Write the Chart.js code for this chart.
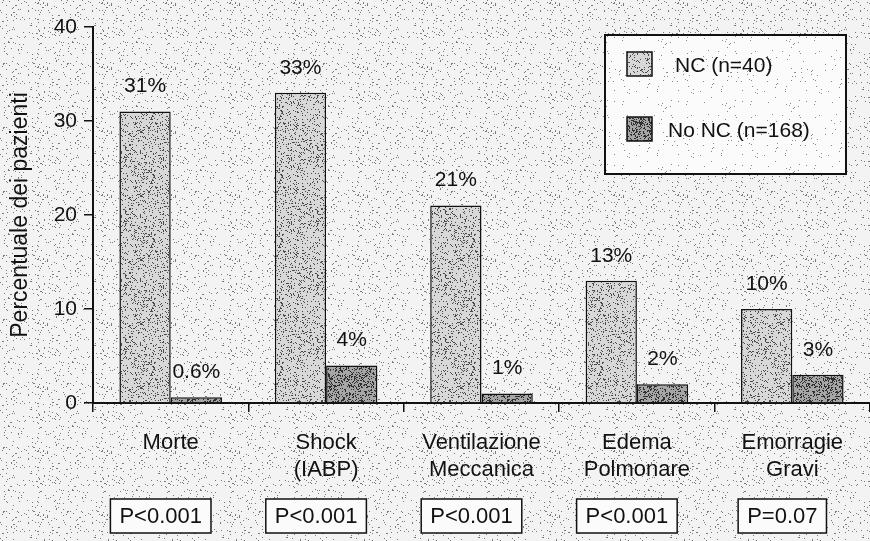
<!DOCTYPE html>
<html>
<head>
<meta charset="utf-8">
<script src="https://cdn.jsdelivr.net/npm/chart.js@4.4.1/dist/chart.umd.min.js"></script>
<style>
  html, body { margin: 0; padding: 0; background: #e8e8e8; }
  #wrap { width: 870px; height: 541px; }
</style>
</head>
<body>
<div id="wrap"><canvas id="chart" width="870" height="541"></canvas></div>
<script>
// Data
const categories = [
  ['Morte'],
  ['Shock', '(IABP)'],
  ['Ventilazione', 'Meccanica'],
  ['Edema', 'Polmonare'],
  ['Emorragie', 'Gravi']
];
const seriesNames = ['NC (n=40)', 'No NC (n=168)'];
const ncValues = [31, 33, 21, 13, 10];
const noNcValues = [0.6, 4, 1, 2, 3];
const ncLabels = ['31%', '33%', '21%', '13%', '10%'];
const noNcLabels = ['0.6%', '4%', '1%', '2%', '3%'];
const pValues = ['P<0.001', 'P<0.001', 'P<0.001', 'P<0.001', 'P=0.07'];
const yTicks = [0, 10, 20, 30, 40];

const FONT = '"Liberation Sans", Arial, Helvetica, sans-serif';

// stippled texture like the scanned print (fixed LCG, not data)
function stipple(base, dot, share, seed) {
  const size = 64;
  const c = document.createElement('canvas');
  c.width = size; c.height = size;
  const g = c.getContext('2d');
  g.fillStyle = base;
  g.fillRect(0, 0, size, size);
  g.fillStyle = dot;
  let s = seed;
  const next = () => { s = (s * 1103515245 + 12345) % 2147483648; return s / 2147483648; };
  const n = Math.round(size * size * share);
  for (let i = 0; i < n; i++) {
    g.fillRect(Math.floor(next() * size), Math.floor(next() * size), 1, 1);
  }
  return c;
}

const ctx0 = document.getElementById('chart').getContext('2d');
const bgPattern = ctx0.createPattern(stipple('#f3f3f3', '#7a7a7a', 0.05, 7), 'repeat');
const ncPattern = ctx0.createPattern(stipple('#d8d8d8', '#4a4a4a', 0.16, 19), 'repeat');
const noNcPattern = ctx0.createPattern(stipple('#a6a6a6', '#2e2e2e', 0.33, 41), 'repeat');
const legendPattern = ctx0.createPattern(stipple('#fbfbfb', '#8a8a8a', 0.015, 3), 'repeat');

const paperPlugin = {
  id: 'paper',
  beforeDraw(chart) {
    const { ctx, width, height } = chart;
    ctx.save();
    ctx.fillStyle = bgPattern;
    ctx.fillRect(0, 0, width, height);
    ctx.restore();
  }
};

const annotations = {
  id: 'annotations',
  afterDatasetsDraw(chart) {
    const { ctx } = chart;
    const labelSets = [ncLabels, noNcLabels];
    ctx.save();
    ctx.fillStyle = '#111';
    ctx.font = '21px ' + FONT;
    ctx.textAlign = 'center';
    ctx.textBaseline = 'middle';
    chart.data.datasets.forEach((ds, di) => {
      chart.getDatasetMeta(di).data.forEach((bar, i) => {
        ctx.fillText(labelSets[di][i], bar.x, bar.y - 25);
      });
    });

    // P-value boxes under the category labels
    const xs = chart.scales.x;
    ctx.font = '22px ' + FONT;
    pValues.forEach((p, i) => {
      const cx = xs.getPixelForValue(i) - 10;
      const w = ctx.measureText(p).width + 18;
      const h = 34;
      const top = 499;
      ctx.fillStyle = '#fbfbfb';
      ctx.fillRect(cx - w / 2, top, w, h);
      ctx.strokeStyle = '#111';
      ctx.lineWidth = 1.5;
      ctx.strokeRect(cx - w / 2, top, w, h);
      ctx.fillStyle = '#111';
      ctx.fillText(p, cx, top + h / 2 + 1);
    });

    // legend box in the upper right
    const lx = 605, ly = 35, lw = 241, lh = 139;
    ctx.fillStyle = legendPattern;
    ctx.fillRect(lx, ly, lw, lh);
    ctx.strokeStyle = '#111';
    ctx.lineWidth = 2;
    ctx.strokeRect(lx, ly, lw, lh);
    const swatches = [ncPattern, noNcPattern];
    const rows = [{ y: 52, tx: 675 }, { y: 117, tx: 668 }];
    ctx.textAlign = 'left';
    ctx.font = '21px ' + FONT;
    seriesNames.forEach((name, i) => {
      const r = rows[i];
      ctx.fillStyle = swatches[i];
      ctx.fillRect(627, r.y, 25, 24);
      ctx.lineWidth = 1.5;
      ctx.strokeRect(627, r.y, 25, 24);
      ctx.fillStyle = '#111';
      ctx.fillText(name, r.tx, r.y + 14);
    });
    ctx.restore();
  }
};

new Chart(ctx0, {
  type: 'bar',
  data: {
    labels: categories,
    datasets: [
      {
        label: seriesNames[0],
        data: ncValues,
        backgroundColor: ncPattern,
        borderColor: '#111',
        borderWidth: 1.5,
        categoryPercentage: 0.66,
        barPercentage: 1.0
      },
      {
        label: seriesNames[1],
        data: noNcValues,
        backgroundColor: noNcPattern,
        borderColor: '#111',
        borderWidth: 1.5,
        categoryPercentage: 0.66,
        barPercentage: 1.0
      }
    ]
  },
  options: {
    responsive: false,
    animation: false,
    layout: { padding: { top: 27, right: 0, left: 0, bottom: 0 } },
    plugins: {
      legend: { display: false },
      tooltip: { enabled: false }
    },
    scales: {
      x: {
        grid: { display: true, drawOnChartArea: false, drawTicks: true, tickLength: 9, color: '#111', lineWidth: 1.5, offset: true },
        border: { display: true, color: '#111', width: 2 },
        ticks: { color: '#111', font: { family: FONT, size: 22 }, padding: 18, maxRotation: 0, autoSkip: false },
        afterFit: (scale) => { scale.height = 138; }
      },
      y: {
        min: 0,
        max: 40,
        afterBuildTicks: (scale) => { scale.ticks = yTicks.map(v => ({ value: v })); },
        grid: { display: true, drawOnChartArea: false, drawTicks: true, tickLength: 9, color: '#111', lineWidth: 1.5 },
        border: { display: true, color: '#111', width: 2 },
        ticks: { color: '#111', font: { family: FONT, size: 21 }, padding: 7 },
        title: { display: true, text: 'Percentuale dei pazienti', color: '#111', font: { family: FONT, size: 23 }, padding: { top: 7, bottom: 0 } },
        afterFit: (scale) => { scale.width = 93; }
      }
    }
  },
  plugins: [paperPlugin, annotations]
});
</script>
</body>
</html>
